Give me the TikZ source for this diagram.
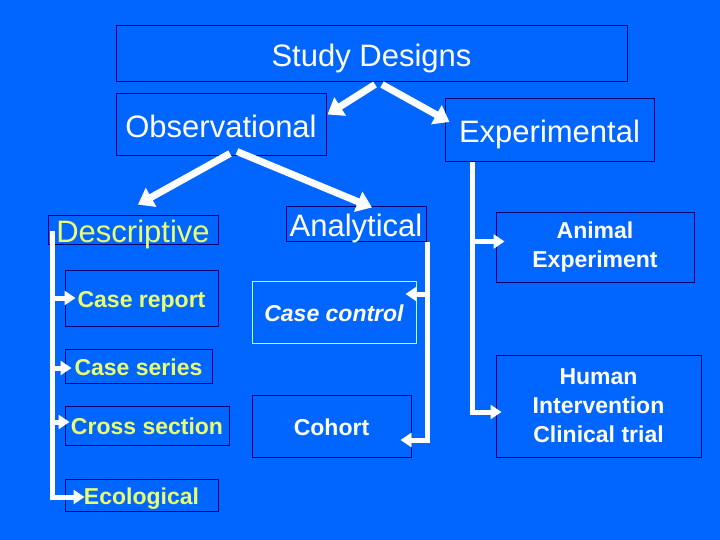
\documentclass[tikz,border=0pt]{standalone}
\usepackage{fontspec}
\setmainfont{Liberation Sans}
\usetikzlibrary{arrows.meta,calc}
\definecolor{bg}{RGB}{0,102,255}
\definecolor{navy}{RGB}{0,0,110}
\definecolor{ylw}{RGB}{235,255,110}
\definecolor{cyanb}{RGB}{170,255,230}
\begin{document}
\begin{tikzpicture}[x=1pt,y=-1pt,
  box/.style={draw=navy, line width=1pt, inner sep=0pt, text=white,
    text height=27pt, text depth=2.8pt,
    font=\fontsize{31}{36}\selectfont},
  smallbox/.style={draw=navy, line width=1pt, inner sep=0pt, text=white, align=center,
    font=\bfseries\fontsize{23}{29}\selectfont},
  oneline/.style={text height=20pt, text depth=1.6pt},
  bigarrow/.style={draw=white, line width=7pt, -{Triangle[width=21pt,length=15pt]}},
  brk/.style={draw=white, line width=5pt, line join=miter, -{Triangle[width=14pt,length=11pt]}}]
\fill[bg] (0,0) rectangle (720,540);
\useasboundingbox (0,0) rectangle (720,540);
% main boxes
\node[box, minimum width=511pt, minimum height=56pt] (sd) at (371.5,54) {Study Designs};
\node[box, minimum width=210pt, minimum height=62pt] (obs) at (221,125) {Observational};
\node[box, minimum width=209pt, minimum height=63pt] (exp) at (549.5,130.5) {Experimental};
\node[box, text=ylw, minimum width=170pt, minimum height=28pt] (desc) at (133,230) {Descriptive};
\node[box, minimum width=140pt, minimum height=34pt] (ana) at (356,224) {Analytical};
% descriptive children
\node[smallbox, oneline, text=ylw, minimum width=153pt, minimum height=56pt] (cr) at (141.5,298) {Case report};
\node[smallbox, oneline, text=ylw, minimum width=147pt, minimum height=34pt] (cs) at (138.5,366) {Case series};
\node[smallbox, oneline, text=ylw, minimum width=164pt, minimum height=39pt] (cx) at (147,425.5) {Cross section};
\node[smallbox, oneline, text=ylw, minimum width=153pt, minimum height=32pt] (eco) at (141.5,495) {Ecological};
% analytical children
\node[smallbox, oneline, draw=cyanb, font=\bfseries\itshape\fontsize{23}{29}\selectfont, minimum width=164pt, minimum height=62pt] (cc) at (334,312) {Case control};
\node[smallbox, oneline, minimum width=159pt, minimum height=62pt] (coh) at (331.5,426) {Cohort};
% experimental children
\node[smallbox, minimum width=198pt, minimum height=69pt] (ani) at (595,247.5) {Animal\\ Experiment};
\node[smallbox, minimum width=205pt, minimum height=102pt] (hum) at (598.5,406) {Human\\Intervention\\Clinical trial};
% big arrows
\draw[bigarrow] ($(sd.south)+(3.5,2)$) -- ($(obs.north east)+(1,21)$);
\draw[bigarrow] ($(sd.south)+(10.5,2)$) -- ($(exp.west)+(5,-8.5)$);
\draw[bigarrow] ($(obs.south)+(9,-3)$) -- ($(desc.north)+(5,-10)$);
\draw[bigarrow] ($(obs.south)+(16,-5)$) -- ($(ana.north)+(16,1)$);
% descriptive bracket
\coordinate (dv) at ($(desc.west)+(5,1)$);
\coordinate (d1) at ($(cr.west)+(11,0)$);
\coordinate (d2) at ($(cs.west)+(7,2)$);
\coordinate (d3) at ($(cx.west)+(5,-3.5)$);
\coordinate (d4) at ($(eco.west)+(20,2)$);
\draw[brk] (dv) |- (d4);
\draw[brk] (dv |- d1) -- (d1);
\draw[brk] (dv |- d2) -- (d2);
\draw[brk] (dv |- d3) -- (d3);
% analytical bracket
\coordinate (av) at ($(ana.south east)+(1,0)$);
\coordinate (a1) at ($(cc.east)+(-11,-18)$);
\coordinate (a2) at ($(coh.east)+(-11,14)$);
\draw[brk] (av) |- (a2);
\draw[brk] (av |- a1) -- (a1);
% experimental bracket
\coordinate (ev) at ($(exp.south west)+(28,0)$);
\coordinate (e1) at ($(ani.west)+(9,-6)$);
\coordinate (e2) at ($(hum.west)+(6,6)$);
\draw[brk] (ev) |- (e2);
\draw[brk] (ev |- e1) -- (e1);
\end{tikzpicture}
\end{document}
